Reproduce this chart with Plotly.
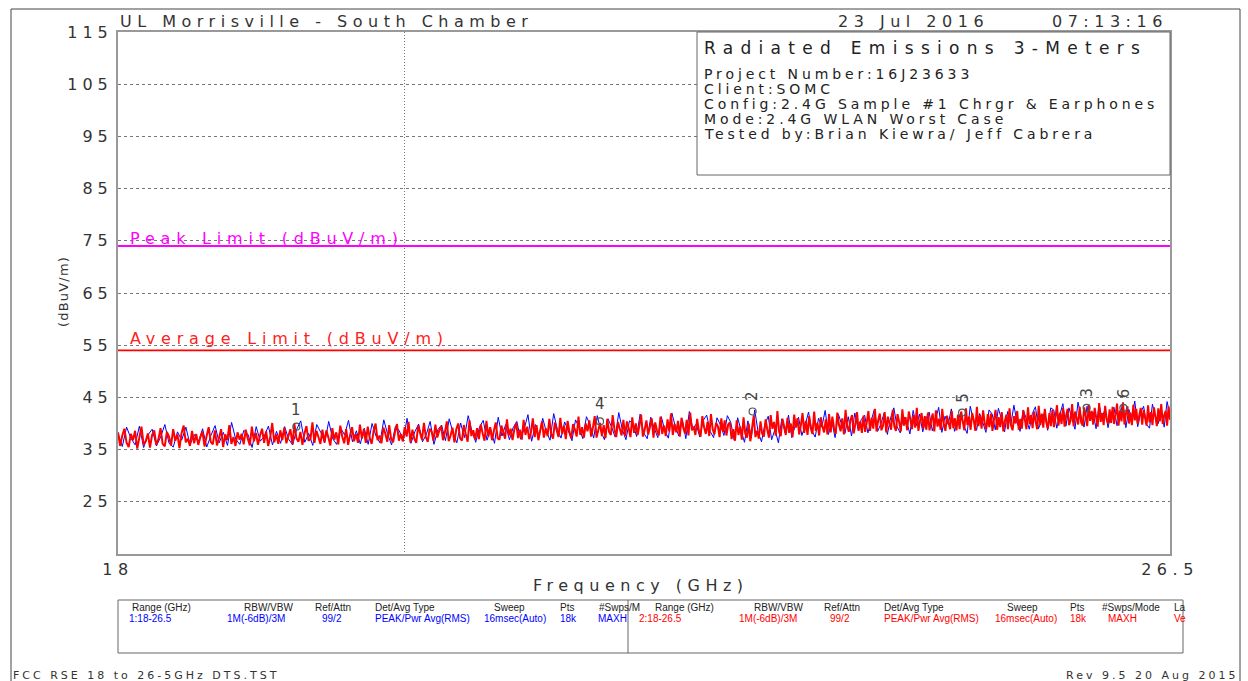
import numpy as np
import plotly.graph_objects as go

# ---------------- data ----------------
FREQ_START, FREQ_STOP = 18.0, 26.5  # GHz sweep

TRACE1_BLUE = [
    38.1, 35.6, 39.3, 37.2, 35.9, 39.5, 35.4, 37.8, 38.9, 35.7, 37.4, 39.8, 36.2, 35.5, 38.4, 36.8, 39.3, 35.9, 37.9, 36.4,
    39.0, 35.5, 37.7, 39.6, 36.3, 38.3, 35.8, 40.2, 37.0, 36.0, 38.7, 37.9, 35.4, 39.4, 36.6, 37.6, 39.5, 35.9, 38.5, 36.2,
    39.4, 37.0, 35.9, 38.9, 40.5, 36.4, 38.1, 35.8, 39.8, 38.3, 36.3, 40.4, 37.1, 36.0, 39.2, 37.8, 40.6, 36.5, 38.6, 36.1,
    39.1, 36.0, 40.0, 37.6, 36.3, 40.7, 37.9, 35.9, 39.5, 38.6, 36.6, 41.0, 36.2, 38.4, 39.9, 36.5, 37.9, 40.4, 36.0, 38.8,
    39.7, 36.7, 40.9, 38.2, 36.3, 40.1, 37.3, 41.5, 38.5, 36.4, 39.3, 40.6, 36.8, 38.9, 36.2, 41.2, 37.6, 39.8, 36.9, 39.2,
    40.4, 37.0, 39.0, 41.7, 36.6, 39.8, 37.6, 41.0, 38.4, 36.8, 41.9, 38.9, 37.2, 40.3, 38.6, 36.7, 40.7, 39.2, 37.1, 41.3,
    39.8, 37.2, 41.5, 38.5, 36.9, 40.9, 39.3, 37.4, 42.1, 38.8, 36.9, 40.5, 40.0, 37.5, 41.8, 38.2, 37.1, 41.2, 39.1, 37.3,
    41.3, 38.6, 37.2, 42.0, 39.4, 37.6, 40.8, 37.1, 42.3, 39.0, 39.9, 37.4, 40.6, 41.6, 38.5, 37.3, 41.1, 39.7, 37.7, 41.5,
    40.2, 36.8, 41.1, 38.7, 36.4, 40.5, 37.2, 42.6, 38.4, 36.5, 39.8, 41.4, 36.9, 38.9, 36.3, 40.9, 38.2, 41.6, 37.3, 39.6,
    41.2, 37.7, 39.7, 42.2, 38.6, 37.4, 41.0, 39.3, 42.5, 37.9, 40.5, 37.3, 41.8, 39.8, 38.1, 41.3, 37.6, 42.0, 38.9, 40.8,
    41.6, 38.2, 40.5, 42.7, 38.5, 39.9, 42.0, 37.9, 41.1, 43.0, 39.4, 38.2, 41.4, 40.3, 38.0, 42.5, 39.6, 41.8, 38.4, 40.9,
    42.2, 38.6, 40.7, 43.1, 38.3, 41.4, 39.8, 42.8, 38.5, 40.4, 42.1, 39.5, 38.1, 43.3, 40.6, 38.7, 41.9, 40.2, 38.3, 42.6,
    41.8, 38.8, 42.9, 40.8, 38.4, 42.3, 39.7, 43.5, 40.3, 38.5, 42.6, 41.0, 38.9, 41.9, 43.2, 39.0, 40.5, 42.2, 38.7, 43.0,
    42.6, 39.1, 41.7, 43.8, 39.5, 43.0, 40.9, 38.9, 44.1, 41.4, 39.3, 43.3, 40.5, 42.2, 39.0, 43.6, 41.0, 42.8, 39.2, 41.9,
    43.1, 39.6, 41.6, 44.0, 39.2, 42.7, 40.8, 44.3, 39.4, 42.1, 43.3, 39.8, 39.1, 43.7, 41.3, 40.0, 43.0, 39.3, 44.2, 41.6,
]

TRACE2_RED = [
    38.3, 35.7, 37.7, 39.0, 36.3, 35.5, 38.0, 36.8, 38.6, 35.2, 37.3, 39.4, 36.0, 36.6, 38.1, 35.4, 37.8, 38.7, 35.9, 37.0,
    39.1, 36.1, 35.6, 38.4, 37.5, 35.8, 38.9, 36.7, 37.9, 35.3, 38.2, 39.6, 36.4, 37.1, 35.7, 38.6, 36.2, 38.0, 35.9, 37.4,
    38.5, 35.6, 37.6, 39.3, 36.5, 36.0, 38.7, 35.8, 37.2, 38.9, 35.5, 37.9, 36.8, 39.7, 36.1, 37.4, 35.7, 38.3, 36.9, 38.0,
    36.0, 38.8, 37.1, 35.8, 39.4, 36.6, 38.2, 35.9, 37.7, 39.0, 36.3, 38.5, 35.7, 37.3, 40.1, 36.4, 37.9, 36.1, 38.7, 36.8,
    39.2, 36.2, 37.6, 38.9, 36.0, 39.9, 37.2, 36.5, 38.4, 35.9, 38.1, 39.5, 36.7, 37.0, 40.2, 36.3, 38.6, 37.4, 36.1, 38.8,
    36.4, 38.7, 37.3, 35.8, 39.1, 36.9, 38.3, 36.0, 39.6, 37.5, 36.2, 38.9, 35.9, 37.8, 39.3, 36.6, 38.0, 36.3, 39.8, 37.1,
    38.9, 36.3, 39.4, 37.2, 36.1, 38.6, 40.0, 36.8, 37.7, 36.2, 39.2, 38.1, 36.5, 39.7, 37.0, 36.4, 38.4, 39.9, 36.7, 38.0,
    36.6, 39.3, 37.5, 40.3, 36.4, 38.8, 37.1, 36.3, 39.6, 38.2, 36.9, 40.1, 37.4, 36.5, 39.0, 38.5, 36.7, 39.8, 37.3, 38.6,
    39.5, 36.8, 38.3, 40.4, 36.6, 37.7, 39.2, 36.4, 38.9, 40.0, 37.2, 36.7, 39.7, 38.0, 36.5, 40.6, 37.6, 38.7, 36.9, 39.1,
    37.0, 39.8, 38.1, 36.7, 40.5, 37.5, 39.3, 36.8, 38.6, 40.2, 37.2, 36.9, 39.6, 38.4, 37.1, 40.8, 37.7, 39.0, 36.8, 38.9,
    40.1, 37.2, 38.8, 36.9, 40.7, 37.8, 39.4, 37.0, 38.3, 41.0, 37.4, 39.7, 36.8, 38.6, 40.4, 37.3, 39.1, 37.6, 40.9, 38.0,
    37.1, 40.2, 38.7, 37.4, 41.1, 38.0, 39.6, 37.0, 40.5, 38.4, 37.2, 39.9, 38.9, 37.5, 41.3, 37.8, 39.3, 37.3, 40.0, 38.5,
    40.6, 37.5, 39.2, 41.4, 37.3, 38.7, 40.1, 37.6, 39.7, 37.2, 40.9, 38.4, 37.8, 41.6, 38.9, 37.4, 40.3, 39.0, 37.7, 40.7,
    37.6, 40.4, 39.1, 37.4, 41.2, 38.2, 40.0, 37.8, 39.5, 41.7, 37.5, 38.8, 40.6, 37.9, 39.3, 41.0, 37.3, 40.2, 38.6, 37.7,
    41.3, 38.0, 39.6, 37.6, 40.8, 38.5, 41.9, 37.8, 39.9, 38.3, 40.5, 37.5, 41.1, 39.2, 38.1, 40.7, 37.7, 42.1, 38.7, 39.4,
    37.8, 40.9, 38.6, 37.5, 41.4, 39.3, 38.0, 40.3, 37.6, 41.8, 38.9, 37.9, 40.1, 39.5, 37.4, 41.0, 38.4, 40.6, 37.7, 39.8,
    40.2, 37.0, 38.9, 36.7, 40.6, 37.8, 39.4, 36.9, 41.2, 38.1, 37.3, 40.0, 36.6, 39.1, 41.5, 37.4, 38.6, 37.1, 40.4, 38.0,
    37.5, 40.8, 38.8, 37.3, 41.6, 39.0, 40.3, 37.7, 42.4, 38.4, 37.6, 40.9, 39.5, 37.8, 41.1, 38.2, 40.0, 37.4, 41.7, 39.2,
    41.0, 37.9, 39.7, 42.0, 38.2, 40.5, 37.8, 41.4, 39.0, 38.0, 42.3, 38.6, 40.1, 37.7, 41.2, 39.4, 38.3, 40.8, 37.9, 41.8,
    38.3, 41.3, 39.2, 38.0, 42.1, 39.8, 38.5, 41.0, 37.9, 42.6, 39.5, 38.4, 40.7, 41.6, 38.1, 39.9, 42.2, 38.6, 40.4, 38.2,
    41.5, 38.4, 40.2, 42.4, 38.6, 41.1, 39.0, 42.8, 38.5, 40.6, 41.9, 38.7, 39.6, 42.2, 38.3, 41.3, 40.0, 38.8, 42.6, 39.4,
    38.6, 41.8, 40.3, 38.5, 42.7, 39.6, 41.2, 38.7, 42.3, 40.8, 38.9, 41.6, 39.2, 43.0, 38.6, 40.5, 42.0, 39.0, 41.4, 38.8,
    42.1, 38.7, 40.6, 41.9, 38.5, 42.5, 39.4, 40.9, 38.8, 42.8, 39.8, 38.6, 41.5, 40.2, 38.9, 42.4, 39.1, 41.0, 38.7, 41.7,
    38.9, 42.3, 40.4, 38.7, 42.9, 39.7, 41.3, 38.8, 42.0, 40.7, 38.6, 43.2, 39.5, 41.6, 39.0, 42.5, 40.1, 38.9, 41.8, 39.3,
    41.9, 38.6, 40.8, 42.6, 38.8, 41.2, 39.3, 42.2, 38.5, 40.5, 41.7, 38.9, 42.9, 39.6, 38.7, 41.4, 40.0, 42.4, 38.8, 40.9,
    39.0, 42.5, 40.7, 38.9, 43.1, 39.9, 41.6, 39.1, 42.3, 40.4, 38.9, 43.4, 39.7, 41.9, 39.2, 42.8, 40.2, 39.0, 42.0, 39.5,
    42.6, 39.3, 41.2, 43.5, 39.6, 42.1, 39.9, 43.0, 39.4, 41.5, 42.8, 39.7, 40.6, 43.7, 39.5, 42.3, 41.0, 39.8, 43.2, 40.2,
    39.6, 43.1, 41.4, 39.5, 43.6, 40.5, 42.4, 39.8, 43.0, 41.1, 39.4, 43.9, 40.3, 42.0, 39.7, 43.4, 40.8, 39.9, 42.7, 40.1,
    43.2, 39.9, 41.7, 43.8, 39.6, 42.5, 40.4, 44.0, 39.8, 41.9, 43.3, 40.0, 42.1, 39.7, 43.6, 40.6, 42.8, 39.9, 41.5, 43.0,
    39.8, 42.6, 41.0, 39.6, 43.5, 40.2, 42.2, 39.7, 43.1, 41.3, 39.5, 42.9, 40.4, 43.7, 39.9, 41.6, 42.4, 39.6, 43.3, 40.7,
]

LIMIT_FREQ = [18.0, 26.5]
PEAK_LIMIT = [74.0, 74.0]
AVG_LIMIT = [54.0, 54.0]

MARKER_ID = ["1", "4", "2", "5", "3", "6"]
MARKER_FREQ = [19.22, 21.49, 22.73, 24.55, 25.70, 26.05]
MARKER_LEVEL = [39.4, 40.4, 42.3, 42.1, 43.0, 43.0]
MARKER_ANGLE = [0, 0, -90, -90, -90, -90]

Y_TICKS = [25, 35, 45, 55, 65, 75, 85, 95, 105, 115]
X_TICKS = [18, 20, 26.5]
X_TICK_TEXT = ["18", "", "26.5"]

INFO_TITLE = "Radiated Emissions 3-Meters"
INFO_LINES = [
    "Project Number:16J23633",
    "Client:SOMC",
    "Config:2.4G Sample #1 Chrgr & Earphones",
    "Mode:2.4G WLAN Worst Case",
    "Tested by:Brian Kiewra/ Jeff Cabrera",
]

TABLE_HEAD_1 = ["Range (GHz)", "RBW/VBW", "Ref/Attn", "Det/Avg Type", "Sweep", "Pts", "#Swps/M"]
TABLE_VAL_1 = ["1:18-26.5", "1M(-6dB)/3M", "99/2", "PEAK/Pwr Avg(RMS)", "16msec(Auto)", "18k", "MAXH"]
TABLE_HEAD_2 = ["Range (GHz)", "RBW/VBW", "Ref/Attn", "Det/Avg Type", "Sweep", "Pts", "#Swps/Mode", "La"]
TABLE_VAL_2 = ["2:18-26.5", "1M(-6dB)/3M", "99/2", "PEAK/Pwr Avg(RMS)", "16msec(Auto)", "18k", "MAXH", "Ve"]

# ---------------- layout geometry (pixels) ----------------
W, H = 1248, 681
L, R, T, B = 118, 1170, 32, 554
PW, PH = R - L, B - T


def fx(px):
    return (px - L) / PW


def fy(py):
    return (B - py) / PH


def sp(text, s):
    return f'<span style="letter-spacing:{s}px">{text}</span>'


MAIN_FONT = "DejaVu Sans"
TXT = "#333333"

fig = go.Figure()

freq_blue = np.linspace(FREQ_START, FREQ_STOP, len(TRACE1_BLUE))
freq_red = np.linspace(FREQ_START, FREQ_STOP, len(TRACE2_RED))

fig.add_trace(go.Scatter(x=freq_blue, y=TRACE1_BLUE, mode="lines",
                         line=dict(color="#0000ff", width=1.0, simplify=False), hoverinfo="skip"))
fig.add_trace(go.Scatter(x=freq_red, y=TRACE2_RED, mode="lines",
                         line=dict(color="#ff0000", width=2.0, simplify=False), hoverinfo="skip"))
fig.add_trace(go.Scatter(x=LIMIT_FREQ, y=PEAK_LIMIT, mode="lines",
                         line=dict(color="#ff00ff", width=2.2), hoverinfo="skip"))
fig.add_trace(go.Scatter(x=LIMIT_FREQ, y=AVG_LIMIT, mode="lines",
                         line=dict(color="#ff0000", width=1.6), hoverinfo="skip"))
fig.add_trace(go.Scatter(x=MARKER_FREQ, y=MARKER_LEVEL, mode="markers",
                         marker=dict(symbol="circle-open", size=7, color="#555555",
                                     line=dict(width=1.2, color="#555555")),
                         hoverinfo="skip"))

ann = []


def add_text(px, py, text, size, color=TXT, spacing=0.0, xanchor="left",
             angle=0, family=MAIN_FONT):
    t = sp(text, spacing) if spacing else text
    ann.append(dict(x=fx(px), y=fy(py), xref="paper", yref="paper", text=t,
                    showarrow=False, xanchor=xanchor, yanchor="middle",
                    textangle=angle, font=dict(family=family, size=size, color=color)))


# header
add_text(118, 21, "UL Morrisville - South Chamber", 16, spacing=5.5)
add_text(836, 21, "23 Jul 2016", 16, spacing=5.5)
add_text(1050, 21, "07:13:16", 16, spacing=5.5)

# axis titles
add_text(63, 292, "(dBuV/m)", 13, spacing=1.2, xanchor="center", angle=-90)
add_text(641, 585, "Frequency (GHz)", 16, spacing=5.5, xanchor="center")

# limit labels
add_text(128, 238, "Peak Limit (dBuV/m)", 16, color="#ff00ff", spacing=5.8)
add_text(128, 338, "Average Limit (dBuV/m)", 16, color="#ff2020", spacing=5.8)

# info box
add_text(702, 48, INFO_TITLE, 17, color="#222222", spacing=7.3)
for i, line in enumerate(INFO_LINES):
    add_text(702, 74 + 15 * i, line, 14, color="#222222", spacing=3.9)

# footer
add_text(11, 675, "FCC RSE 18 to 26-5GHz DTS.TST", 11, spacing=3.0)
add_text(1240, 675, "Rev 9.5 20 Aug 2015", 11, spacing=3.0, xanchor="right")

# marker labels
for mid, mf, ml, ma in zip(MARKER_ID, MARKER_FREQ, MARKER_LEVEL, MARKER_ANGLE):
    ann.append(dict(x=np.log10(mf), y=ml, xref="x", yref="y", text=mid,
                    showarrow=False, xanchor="center", yanchor="bottom",
                    yshift=6 if ma == 0 else 8,
                    textangle=ma, font=dict(family=MAIN_FONT, size=15, color="#444444")))

# settings table
TAB_FONT = "Liberation Sans Narrow, Liberation Sans"
head1_x = [130, 242, 313, 373, 492, 558, 597]
val1_x = [127, 225, 320, 373, 482, 558, 596]
head2_x = [653, 752, 822, 882, 1005, 1068, 1100, 1172]
val2_x = [637, 737, 828, 882, 993, 1068, 1106, 1172]
for t, x in zip(TABLE_HEAD_1, head1_x):
    add_text(x, 607, t, 10, color="#222222", family=TAB_FONT)
for t, x in zip(TABLE_VAL_1, val1_x):
    add_text(x, 618, t, 10, color="#0000ff", family=TAB_FONT)
for t, x in zip(TABLE_HEAD_2, head2_x):
    add_text(x, 607, t, 10, color="#222222", family=TAB_FONT)
for t, x in zip(TABLE_VAL_2, val2_x):
    add_text(x, 618, t, 10, color="#ff0000", family=TAB_FONT)

shapes = []
frame = dict(color="#444444", width=1)
shapes.append(dict(type="line", xref="paper", yref="paper", x0=fx(11), y0=fy(9), x1=fx(1240), y1=fy(9), line=frame))
shapes.append(dict(type="line", xref="paper", yref="paper", x0=fx(11), y0=fy(9), x1=fx(11), y1=fy(681), line=frame))
shapes.append(dict(type="line", xref="paper", yref="paper", x0=fx(1240), y0=fy(9), x1=fx(1240), y1=fy(681), line=frame))
shapes.append(dict(type="rect", xref="paper", yref="paper", x0=fx(697), y0=fy(175), x1=fx(1170), y1=fy(32),
                   line=dict(color="#666666", width=1), fillcolor="white", layer="above"))
shapes.append(dict(type="rect", xref="paper", yref="paper", x0=fx(118), y0=fy(653), x1=fx(1183), y1=fy(600),
                   line=dict(color="#666666", width=1), fillcolor="rgba(0,0,0,0)"))
shapes.append(dict(type="line", xref="paper", yref="paper", x0=fx(628), y0=fy(653), x1=fx(628), y1=fy(600),
                   line=dict(color="#666666", width=1)))

fig.update_layout(
    width=W, height=H,
    margin=dict(l=L, r=W - R, t=T, b=H - B, pad=0),
    paper_bgcolor="white", plot_bgcolor="white",
    showlegend=False,
    annotations=ann, shapes=shapes,
    font=dict(family=MAIN_FONT, color=TXT),
)

fig.update_xaxes(type="log", range=[np.log10(FREQ_START), np.log10(FREQ_STOP)],
                 tickmode="array", tickvals=X_TICKS,
                 ticktext=[sp(t, 5.5) if t else "" for t in X_TICK_TEXT],
                 tickfont=dict(size=16, color=TXT, family=MAIN_FONT),
                 showgrid=True, gridcolor="#777777", griddash="1px,2px", gridwidth=1,
                 showline=True, mirror=True, linecolor="#999999", linewidth=2,
                 ticks="", zeroline=False)
fig.update_yaxes(range=[15, 115], tickmode="array", tickvals=Y_TICKS,
                 ticktext=[sp(str(v), 5.0) for v in Y_TICKS],
                 tickfont=dict(size=16, color=TXT, family=MAIN_FONT),
                 showgrid=True, gridcolor="#777777", griddash="3px,3px", gridwidth=1,
                 showline=True, mirror=True, linecolor="#999999", linewidth=2,
                 ticks="", zeroline=False)

fig.write_html("out.html", config={"displayModeBar": False},
               post_script="document.body.style.margin='0';document.body.style.overflow='hidden';")
